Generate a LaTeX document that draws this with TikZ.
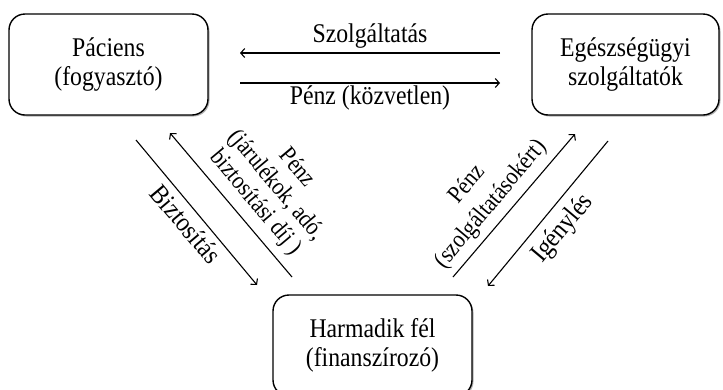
\documentclass[tikz,border=0pt]{standalone}
\usepackage{fontspec}
\setmainfont{Liberation Serif}[FakeStretch=0.88]
\usetikzlibrary{arrows.meta,shadows}
\newcommand\lblfont{\fontsize{27}{29}\selectfont}
\newcommand\smlfontA{\fontsize{24.5}{27}\selectfont}
\newcommand\smlfontB{\fontsize{24.5}{31}\selectfont}
\begin{document}
\begin{tikzpicture}[x=1pt,y=-1pt,
  box/.style={draw, line width=1.4pt, rounded corners=16pt, align=center, font=\lblfont, inner sep=0pt, fill=white,
    drop shadow={shadow xshift=1.5pt,shadow yshift=-1.5pt,opacity=0.3,fill=black}},
  arr/.style={line width=1.1pt, -{Straight Barb[length=4pt,width=9pt,line width=1.1pt]}},
  lbl/.style={font=\lblfont, align=center, inner sep=0pt}]
\useasboundingbox (0,0) rectangle (723,389);

\node[box, minimum width=199pt, minimum height=101pt] (pac) at (108.5,64.5) {Páciens\\(fogyasztó)};
\node[box, minimum width=187pt, minimum height=101pt] (egs) at (625.5,64.5) {Egészségügyi\\szolgáltatók};
\node[box, minimum width=199pt, minimum height=101pt] (har) at (372.5,345.5) {Harmadik fél\\(finanszírozó)};

% horizontal arrows
\coordinate (h1s) at (500,53); \coordinate (h1e) at (240,53);
\coordinate (h2s) at (240,83); \coordinate (h2e) at (500,83);
\draw[arr] (h1s) -- (h1e);
\draw[arr] (h2s) -- (h2e);
\node[lbl] (lszolg) at (370,36) {Szolgáltatás};
\node[lbl] (lpenzk) at (370,98) {Pénz (közvetlen)};

% left diagonal arrows
\coordinate (l1s) at (136,140); \coordinate (l1e) at (257,285);
\coordinate (l2s) at (292,277); \coordinate (l2e) at (170,133);
\draw[arr] (l1s) -- (l1e);
\draw[arr] (l2s) -- (l2e);
\node[lbl, rotate=-50] (lbizt) at (186,224) {Biztosítás};
\node[lbl, font=\smlfontA, rotate=-50] (lpenzj) at (276,185.5) {Pénz\\(járulékok, adó,\\biztosítási díj )};

% right diagonal arrows
\coordinate (r1s) at (453,277); \coordinate (r1e) at (575,134);
\coordinate (r2s) at (608,141); \coordinate (r2e) at (488,286);
\draw[arr] (r1s) -- (r1e);
\draw[arr] (r2s) -- (r2e);
\node[lbl, font=\smlfontB, rotate=50] (lpenzsz) at (479.5,194.5) {Pénz\\(szolgáltatásokért)};
\node[lbl, rotate=50] (ligeny) at (563,229) {Igénylés};
\end{tikzpicture}
\end{document}
